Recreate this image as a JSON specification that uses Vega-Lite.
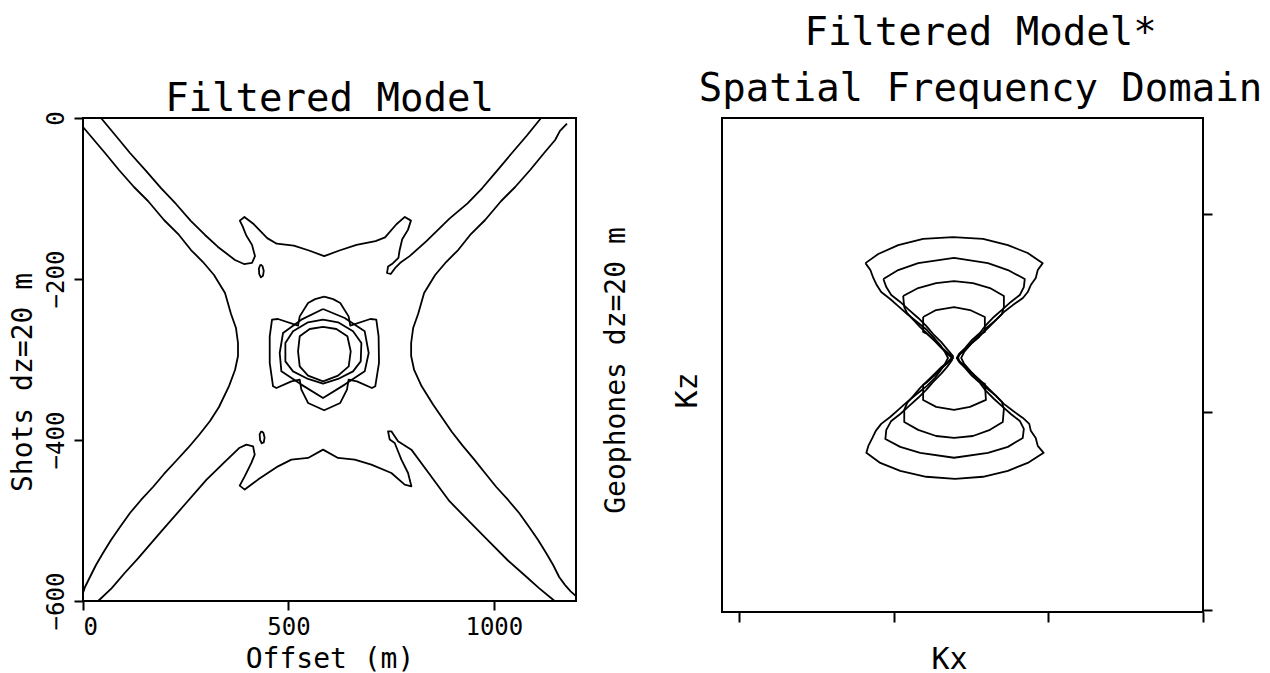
{
  "$schema": "https://vega.github.io/schema/vega-lite/v6.json",
  "background": "white",
  "autosize": {"type": "pad"},
  "padding": {"left": 8, "top": 12, "right": 0, "bottom": 0},
  "bounds": "flush",
  "spacing": 146,
  "config": {
    "font": "DejaVu Sans Mono",
    "view": {"stroke": "black", "strokeWidth": 2},
    "axis": {
      "domain": false, "grid": false,
      "tickColor": "black", "tickWidth": 2, "tickSize": 9,
      "labelFont": "DejaVu Sans Mono", "labelFontSize": 24, "labelColor": "black",
      "titleFont": "DejaVu Sans Mono", "titleFontSize": 28, "titleFontWeight": "normal", "titleColor": "black"
    },
    "title": {"font": "DejaVu Sans Mono", "fontSize": 39, "fontWeight": "normal", "color": "black", "frame": "group", "anchor": "middle"}
  },
  "datasets": {
    "model": [
      {"c":"L1","i":1,"x":0,"y":-11.2},{"c":"L1","i":2,"x":26.8,"y":-27.3},{"c":"L1","i":3,"x":53.6,"y":-43.5},{"c":"L1","i":4,"x":87.6,"y":-64.6},{"c":"L1","i":5,"x":124.1,"y":-85.7},{"c":"L1","i":6,"x":158.2,"y":-103.1},{"c":"L1","i":7,"x":197.2,"y":-126.7},{"c":"L1","i":8,"x":233.7,"y":-145.3},{"c":"L1","i":9,"x":262.9,"y":-164},{"c":"L1","i":10,"x":292.1,"y":-178.9},{"c":"L1","i":11,"x":318.9,"y":-195},{"c":"L1","i":12,"x":345.7,"y":-217.4},{"c":"L1","i":13,"x":360.3,"y":-243.5},{"c":"L1","i":14,"x":372.4,"y":-260.9},{"c":"L1","i":15,"x":377.3,"y":-279.5},{"c":"L1","i":16,"x":377.3,"y":-295.7},{"c":"L1","i":17,"x":370,"y":-313},{"c":"L1","i":18,"x":355.4,"y":-333},{"c":"L1","i":19,"x":331,"y":-359},{"c":"L1","i":20,"x":309.2,"y":-376.4},{"c":"L1","i":21,"x":282.4,"y":-393.8},{"c":"L1","i":22,"x":255.6,"y":-409.9},{"c":"L1","i":23,"x":226.4,"y":-426.1},{"c":"L1","i":24,"x":197.2,"y":-442.2},{"c":"L1","i":25,"x":170.4,"y":-458.4},{"c":"L1","i":26,"x":141.2,"y":-474.5},{"c":"L1","i":27,"x":114.4,"y":-490.7},{"c":"L1","i":28,"x":90.1,"y":-508},{"c":"L1","i":29,"x":68.2,"y":-524.2},{"c":"L1","i":30,"x":48.7,"y":-540.4},{"c":"L1","i":31,"x":31.6,"y":-555.3},{"c":"L1","i":32,"x":17,"y":-570.2},{"c":"L1","i":33,"x":4.9,"y":-582.6},{"c":"L1","i":34,"x":0,"y":-590.1},
      {"c":"L2","i":1,"x":43.8,"y":0},{"c":"L2","i":2,"x":80.3,"y":-22.4},{"c":"L2","i":3,"x":114.4,"y":-43.5},{"c":"L2","i":4,"x":153.4,"y":-65.8},{"c":"L2","i":5,"x":189.9,"y":-87},{"c":"L2","i":6,"x":226.4,"y":-106.8},{"c":"L2","i":7,"x":262.9,"y":-128},{"c":"L2","i":8,"x":297,"y":-145.3},{"c":"L2","i":9,"x":328.6,"y":-160.2},{"c":"L2","i":10,"x":370,"y":-176.4},{"c":"L2","i":11,"x":391.9,"y":-181.4},{"c":"L2","i":12,"x":411.4,"y":-179.9},{"c":"L2","i":13,"x":418.7,"y":-171.6},{"c":"L2","i":14,"x":411.4,"y":-157.6},{"c":"L2","i":15,"x":397.5,"y":-146},{"c":"L2","i":16,"x":388.3,"y":-134.4},{"c":"L2","i":17,"x":381.7,"y":-127.5},{"c":"L2","i":18,"x":392.9,"y":-122.9},{"c":"L2","i":19,"x":416,"y":-132},{"c":"L2","i":20,"x":448.4,"y":-149.2},{"c":"L2","i":21,"x":471.5,"y":-156.1},{"c":"L2","i":22,"x":513.1,"y":-158.5},{"c":"L2","i":23,"x":550.1,"y":-164.6},{"c":"L2","i":24,"x":587.1,"y":-171.6},{"c":"L2","i":25,"x":624.1,"y":-164.6},{"c":"L2","i":26,"x":665.8,"y":-157.6},{"c":"L2","i":27,"x":712,"y":-153},{"c":"L2","i":28,"x":735.2,"y":-148.3},{"c":"L2","i":29,"x":762.9,"y":-132},{"c":"L2","i":30,"x":783.4,"y":-122.9},{"c":"L2","i":31,"x":798.2,"y":-127.5},{"c":"L2","i":32,"x":790.9,"y":-139},{"c":"L2","i":33,"x":777,"y":-150.7},{"c":"L2","i":34,"x":770.5,"y":-164.6},{"c":"L2","i":35,"x":767.8,"y":-173.8},{"c":"L2","i":36,"x":753.9,"y":-180.7},{"c":"L2","i":37,"x":742.6,"y":-184.5},{"c":"L2","i":38,"x":740,"y":-192.4},{"c":"L2","i":39,"x":749,"y":-193.8},{"c":"L2","i":40,"x":761.2,"y":-185.5},{"c":"L2","i":41,"x":772.2,"y":-179.9},{"c":"L2","i":42,"x":795,"y":-171.6},{"c":"L2","i":43,"x":836,"y":-153},{"c":"L2","i":44,"x":892,"y":-125},{"c":"L2","i":45,"x":936,"y":-106},{"c":"L2","i":46,"x":972,"y":-87},{"c":"L2","i":47,"x":1007,"y":-66},{"c":"L2","i":48,"x":1044,"y":-43.5},{"c":"L2","i":49,"x":1080,"y":-22},{"c":"L2","i":50,"x":1115,"y":0},
      {"c":"L3","i":1,"x":1178,"y":-7},{"c":"L3","i":2,"x":1161,"y":-16},{"c":"L3","i":3,"x":1149.2,"y":-27.3},{"c":"L3","i":4,"x":1122.4,"y":-43.5},{"c":"L3","i":5,"x":1088.4,"y":-64.6},{"c":"L3","i":6,"x":1051.9,"y":-85.7},{"c":"L3","i":7,"x":1017.8,"y":-103.1},{"c":"L3","i":8,"x":978.8,"y":-126.7},{"c":"L3","i":9,"x":942.3,"y":-145.3},{"c":"L3","i":10,"x":913.1,"y":-164},{"c":"L3","i":11,"x":883.9,"y":-178.9},{"c":"L3","i":12,"x":857.1,"y":-195},{"c":"L3","i":13,"x":830.3,"y":-217.4},{"c":"L3","i":14,"x":815.7,"y":-243.5},{"c":"L3","i":15,"x":803.6,"y":-260.9},{"c":"L3","i":16,"x":798.7,"y":-279.5},{"c":"L3","i":17,"x":798.7,"y":-295.7},{"c":"L3","i":18,"x":806,"y":-313},{"c":"L3","i":19,"x":824,"y":-333},{"c":"L3","i":20,"x":852,"y":-356},{"c":"L3","i":21,"x":875,"y":-373},{"c":"L3","i":22,"x":898,"y":-390},{"c":"L3","i":23,"x":924,"y":-407},{"c":"L3","i":24,"x":952,"y":-424},{"c":"L3","i":25,"x":980,"y":-442},{"c":"L3","i":26,"x":1006,"y":-458.4},{"c":"L3","i":27,"x":1034.8,"y":-474.5},{"c":"L3","i":28,"x":1061.6,"y":-490.7},{"c":"L3","i":29,"x":1085.9,"y":-508},{"c":"L3","i":30,"x":1107.8,"y":-524.2},{"c":"L3","i":31,"x":1127.3,"y":-540.4},{"c":"L3","i":32,"x":1144.4,"y":-555.3},{"c":"L3","i":33,"x":1159,"y":-570.2},{"c":"L3","i":34,"x":1173,"y":-580},{"c":"L3","i":35,"x":1187,"y":-588},{"c":"L3","i":36,"x":1200,"y":-594},
      {"c":"L4","i":1,"x":37,"y":-600},{"c":"L4","i":2,"x":70,"y":-584},{"c":"L4","i":3,"x":101.5,"y":-565.2},{"c":"L4","i":4,"x":134,"y":-547},{"c":"L4","i":5,"x":189,"y":-514.5},{"c":"L4","i":6,"x":244.6,"y":-482},{"c":"L4","i":7,"x":300.2,"y":-449.6},{"c":"L4","i":8,"x":346.4,"y":-426.5},{"c":"L4","i":9,"x":380,"y":-410},{"c":"L4","i":10,"x":397.7,"y":-405.8},{"c":"L4","i":11,"x":413.9,"y":-407.8},{"c":"L4","i":12,"x":418,"y":-418.2},{"c":"L4","i":13,"x":409.8,"y":-428.5},{"c":"L4","i":14,"x":393.6,"y":-445.1},{"c":"L4","i":15,"x":381.4,"y":-456.7},{"c":"L4","i":16,"x":393.6,"y":-461.6},{"c":"L4","i":17,"x":426,"y":-449.2},{"c":"L4","i":18,"x":474.7,"y":-432.7},{"c":"L4","i":19,"x":507.2,"y":-424.4},{"c":"L4","i":20,"x":547.8,"y":-422.3},{"c":"L4","i":21,"x":584.3,"y":-412},{"c":"L4","i":22,"x":620.8,"y":-422.3},{"c":"L4","i":23,"x":661.4,"y":-424.4},{"c":"L4","i":24,"x":701.9,"y":-430.6},{"c":"L4","i":25,"x":750.6,"y":-441},{"c":"L4","i":26,"x":783,"y":-455.4},{"c":"L4","i":27,"x":799.3,"y":-457.5},{"c":"L4","i":28,"x":791.2,"y":-441},{"c":"L4","i":29,"x":775,"y":-424.4},{"c":"L4","i":30,"x":766.8,"y":-414},{"c":"L4","i":31,"x":758.7,"y":-403.7},{"c":"L4","i":32,"x":746.6,"y":-399.5},{"c":"L4","i":33,"x":742.5,"y":-389.2},{"c":"L4","i":34,"x":750.6,"y":-389.2},{"c":"L4","i":35,"x":766.8,"y":-401.6},{"c":"L4","i":36,"x":799.3,"y":-412},{"c":"L4","i":37,"x":840,"y":-440},{"c":"L4","i":38,"x":892,"y":-476},{"c":"L4","i":39,"x":940,"y":-501},{"c":"L4","i":40,"x":990,"y":-527},{"c":"L4","i":41,"x":1035,"y":-550},{"c":"L4","i":42,"x":1075,"y":-568},{"c":"L4","i":43,"x":1110,"y":-584},{"c":"L4","i":44,"x":1148,"y":-600},
      {"c":"I1","i":1,"x":432,"y":-182},{"c":"I1","i":2,"x":437,"y":-184},{"c":"I1","i":3,"x":440,"y":-190},{"c":"I1","i":4,"x":438,"y":-196},{"c":"I1","i":5,"x":433,"y":-198},{"c":"I1","i":6,"x":429,"y":-194},{"c":"I1","i":7,"x":428,"y":-187},{"c":"I1","i":8,"x":432,"y":-182},
      {"c":"I2","i":1,"x":434,"y":-389},{"c":"I2","i":2,"x":439,"y":-391},{"c":"I2","i":3,"x":442,"y":-397},{"c":"I2","i":4,"x":440,"y":-403},{"c":"I2","i":5,"x":435,"y":-404},{"c":"I2","i":6,"x":431,"y":-400},{"c":"I2","i":7,"x":430,"y":-393},{"c":"I2","i":8,"x":434,"y":-389},
      {"c":"R1","i":1,"x":587,"y":-222},{"c":"R1","i":2,"x":609,"y":-225},{"c":"R1","i":3,"x":626.2,"y":-229.8},{"c":"R1","i":4,"x":646.5,"y":-246.4},{"c":"R1","i":5,"x":650.6,"y":-258},{"c":"R1","i":6,"x":699.3,"y":-249.7},{"c":"R1","i":7,"x":713.9,"y":-250.5},{"c":"R1","i":8,"x":719.5,"y":-271.2},{"c":"R1","i":9,"x":720.5,"y":-304.3},{"c":"R1","i":10,"x":711.4,"y":-333.3},{"c":"R1","i":11,"x":703.3,"y":-335.4},{"c":"R1","i":12,"x":666.8,"y":-327.1},{"c":"R1","i":13,"x":646.5,"y":-325},{"c":"R1","i":14,"x":642.5,"y":-337.4},{"c":"R1","i":15,"x":626.2,"y":-354},{"c":"R1","i":16,"x":587,"y":-363.1},{"c":"R1","i":17,"x":547.8,"y":-354},{"c":"R1","i":18,"x":531.5,"y":-337.4},{"c":"R1","i":19,"x":527.5,"y":-325},{"c":"R1","i":20,"x":507.2,"y":-327.1},{"c":"R1","i":21,"x":470.7,"y":-335.4},{"c":"R1","i":22,"x":462.6,"y":-333.3},{"c":"R1","i":23,"x":454.5,"y":-304.3},{"c":"R1","i":24,"x":454.5,"y":-271.2},{"c":"R1","i":25,"x":460.1,"y":-250.5},{"c":"R1","i":26,"x":474.7,"y":-249.7},{"c":"R1","i":27,"x":523.4,"y":-258},{"c":"R1","i":28,"x":527.5,"y":-246.4},{"c":"R1","i":29,"x":547.8,"y":-229.8},{"c":"R1","i":30,"x":565,"y":-225},{"c":"R1","i":31,"x":587,"y":-222},
      {"c":"R2","i":1,"x":584.3,"y":-237.3},{"c":"R2","i":2,"x":637,"y":-248.4},{"c":"R2","i":3,"x":685.7,"y":-265},{"c":"R2","i":4,"x":695.4,"y":-291.9},{"c":"R2","i":5,"x":685.7,"y":-314.7},{"c":"R2","i":6,"x":637,"y":-331.2},{"c":"R2","i":7,"x":584.3,"y":-347.8},{"c":"R2","i":8,"x":531.5,"y":-331.2},{"c":"R2","i":9,"x":482.9,"y":-314.7},{"c":"R2","i":10,"x":478.8,"y":-291.9},{"c":"R2","i":11,"x":486.9,"y":-267.1},{"c":"R2","i":12,"x":531.5,"y":-250.5},{"c":"R2","i":13,"x":584.3,"y":-237.3},
      {"c":"R3","i":1,"x":584.3,"y":-250.5},{"c":"R3","i":2,"x":620.8,"y":-253.8},{"c":"R3","i":3,"x":657.3,"y":-265},{"c":"R3","i":4,"x":677.6,"y":-279.5},{"c":"R3","i":5,"x":676,"y":-302.3},{"c":"R3","i":6,"x":657.3,"y":-314.7},{"c":"R3","i":7,"x":620.8,"y":-324.2},{"c":"R3","i":8,"x":584.3,"y":-330},{"c":"R3","i":9,"x":547.8,"y":-324.2},{"c":"R3","i":10,"x":511.2,"y":-314.7},{"c":"R3","i":11,"x":492.6,"y":-302.3},{"c":"R3","i":12,"x":492.6,"y":-279.5},{"c":"R3","i":13,"x":511.2,"y":-265},{"c":"R3","i":14,"x":547.8,"y":-253.8},{"c":"R3","i":15,"x":584.3,"y":-250.5},
      {"c":"R4","i":1,"x":584.3,"y":-259.6},{"c":"R4","i":2,"x":616.7,"y":-262.1},{"c":"R4","i":3,"x":643.5,"y":-271.2},{"c":"R4","i":4,"x":651.6,"y":-289.8},{"c":"R4","i":5,"x":646.8,"y":-308.5},{"c":"R4","i":6,"x":620.8,"y":-320.1},{"c":"R4","i":7,"x":584.3,"y":-327.1},{"c":"R4","i":8,"x":547.8,"y":-320.1},{"c":"R4","i":9,"x":527.5,"y":-308.5},{"c":"R4","i":10,"x":523.4,"y":-289.8},{"c":"R4","i":11,"x":527.5,"y":-271.2},{"c":"R4","i":12,"x":551.8,"y":-262.1},{"c":"R4","i":13,"x":584.3,"y":-259.6}
    ],
    "spectrum": [
      {"c":"H1","i":1,"kx":0.818,"kz":1.752},{"c":"H1","i":2,"kx":0.901,"kz":1.798},{"c":"H1","i":3,"kx":1.030,"kz":1.843},{"c":"H1","i":4,"kx":1.191,"kz":1.875},{"c":"H1","i":5,"kx":1.384,"kz":1.883},{"c":"H1","i":6,"kx":1.578,"kz":1.875},{"c":"H1","i":7,"kx":1.739,"kz":1.843},{"c":"H1","i":8,"kx":1.867,"kz":1.803},{"c":"H1","i":9,"kx":1.964,"kz":1.752},{"c":"H1","i":10,"kx":1.932,"kz":1.717},{"c":"H1","i":11,"kx":1.919,"kz":1.677},{"c":"H1","i":12,"kx":1.887,"kz":1.641},{"c":"H1","i":13,"kx":1.867,"kz":1.606},{"c":"H1","i":14,"kx":1.836,"kz":1.576},{"c":"H1","i":15,"kx":1.771,"kz":1.540},{"c":"H1","i":16,"kx":1.713,"kz":1.505},{"c":"H1","i":17,"kx":1.662,"kz":1.465},{"c":"H1","i":18,"kx":1.598,"kz":1.424},{"c":"H1","i":19,"kx":1.553,"kz":1.379},{"c":"H1","i":20,"kx":1.501,"kz":1.344},{"c":"H1","i":21,"kx":1.456,"kz":1.303},{"c":"H1","i":22,"kx":1.437,"kz":1.273},{"c":"H1","i":23,"kx":1.456,"kz":1.243},{"c":"H1","i":24,"kx":1.501,"kz":1.203},{"c":"H1","i":25,"kx":1.553,"kz":1.163},{"c":"H1","i":26,"kx":1.598,"kz":1.122},{"c":"H1","i":27,"kx":1.662,"kz":1.082},{"c":"H1","i":28,"kx":1.713,"kz":1.041},{"c":"H1","i":29,"kx":1.771,"kz":1.006},{"c":"H1","i":30,"kx":1.836,"kz":0.970},{"c":"H1","i":31,"kx":1.877,"kz":0.940},{"c":"H1","i":32,"kx":1.887,"kz":0.905},{"c":"H1","i":33,"kx":1.919,"kz":0.869},{"c":"H1","i":34,"kx":1.932,"kz":0.829},{"c":"H1","i":35,"kx":1.970,"kz":0.794},{"c":"H1","i":36,"kx":1.867,"kz":0.743},{"c":"H1","i":37,"kx":1.739,"kz":0.703},{"c":"H1","i":38,"kx":1.578,"kz":0.673},{"c":"H1","i":39,"kx":1.397,"kz":0.662},{"c":"H1","i":40,"kx":1.211,"kz":0.673},{"c":"H1","i":41,"kx":1.043,"kz":0.703},{"c":"H1","i":42,"kx":0.914,"kz":0.743},{"c":"H1","i":43,"kx":0.824,"kz":0.794},{"c":"H1","i":44,"kx":0.837,"kz":0.829},{"c":"H1","i":45,"kx":0.863,"kz":0.869},{"c":"H1","i":46,"kx":0.885,"kz":0.905},{"c":"H1","i":47,"kx":0.920,"kz":0.940},{"c":"H1","i":48,"kx":0.978,"kz":0.975},{"c":"H1","i":49,"kx":1.030,"kz":1.011},{"c":"H1","i":50,"kx":1.088,"kz":1.051},{"c":"H1","i":51,"kx":1.152,"kz":1.092},{"c":"H1","i":52,"kx":1.216,"kz":1.132},{"c":"H1","i":53,"kx":1.268,"kz":1.173},{"c":"H1","i":54,"kx":1.306,"kz":1.213},{"c":"H1","i":55,"kx":1.332,"kz":1.243},{"c":"H1","i":56,"kx":1.352,"kz":1.273},{"c":"H1","i":57,"kx":1.332,"kz":1.303},{"c":"H1","i":58,"kx":1.306,"kz":1.334},{"c":"H1","i":59,"kx":1.268,"kz":1.369},{"c":"H1","i":60,"kx":1.216,"kz":1.414},{"c":"H1","i":61,"kx":1.152,"kz":1.455},{"c":"H1","i":62,"kx":1.088,"kz":1.495},{"c":"H1","i":63,"kx":1.030,"kz":1.535},{"c":"H1","i":64,"kx":0.978,"kz":1.571},{"c":"H1","i":65,"kx":0.920,"kz":1.606},{"c":"H1","i":66,"kx":0.891,"kz":1.641},{"c":"H1","i":67,"kx":0.869,"kz":1.677},{"c":"H1","i":68,"kx":0.850,"kz":1.717},{"c":"H1","i":69,"kx":0.818,"kz":1.752},
      {"c":"H2","i":1,"kx":0.934,"kz":1.672},{"c":"H2","i":2,"kx":1.030,"kz":1.717},{"c":"H2","i":3,"kx":1.159,"kz":1.752},{"c":"H2","i":4,"kx":1.391,"kz":1.778},{"c":"H2","i":5,"kx":1.610,"kz":1.752},{"c":"H2","i":6,"kx":1.739,"kz":1.717},{"c":"H2","i":7,"kx":1.848,"kz":1.672},{"c":"H2","i":8,"kx":1.842,"kz":1.631},{"c":"H2","i":9,"kx":1.816,"kz":1.591},{"c":"H2","i":10,"kx":1.758,"kz":1.556},{"c":"H2","i":11,"kx":1.706,"kz":1.520},{"c":"H2","i":12,"kx":1.648,"kz":1.480},{"c":"H2","i":13,"kx":1.597,"kz":1.439},{"c":"H2","i":14,"kx":1.558,"kz":1.399},{"c":"H2","i":15,"kx":1.507,"kz":1.364},{"c":"H2","i":16,"kx":1.462,"kz":1.323},{"c":"H2","i":17,"kx":1.423,"kz":1.293},{"c":"H2","i":18,"kx":1.410,"kz":1.273},{"c":"H2","i":19,"kx":1.423,"kz":1.253},{"c":"H2","i":20,"kx":1.462,"kz":1.223},{"c":"H2","i":21,"kx":1.507,"kz":1.183},{"c":"H2","i":22,"kx":1.558,"kz":1.147},{"c":"H2","i":23,"kx":1.597,"kz":1.107},{"c":"H2","i":24,"kx":1.648,"kz":1.067},{"c":"H2","i":25,"kx":1.706,"kz":1.026},{"c":"H2","i":26,"kx":1.758,"kz":0.990},{"c":"H2","i":27,"kx":1.816,"kz":0.955},{"c":"H2","i":28,"kx":1.842,"kz":0.915},{"c":"H2","i":29,"kx":1.835,"kz":0.869},{"c":"H2","i":30,"kx":1.739,"kz":0.824},{"c":"H2","i":31,"kx":1.610,"kz":0.794},{"c":"H2","i":32,"kx":1.391,"kz":0.769},{"c":"H2","i":33,"kx":1.172,"kz":0.794},{"c":"H2","i":34,"kx":1.043,"kz":0.824},{"c":"H2","i":35,"kx":0.947,"kz":0.864},{"c":"H2","i":36,"kx":0.953,"kz":0.910},{"c":"H2","i":37,"kx":0.985,"kz":0.955},{"c":"H2","i":38,"kx":1.043,"kz":0.990},{"c":"H2","i":39,"kx":1.101,"kz":1.031},{"c":"H2","i":40,"kx":1.159,"kz":1.072},{"c":"H2","i":41,"kx":1.211,"kz":1.112},{"c":"H2","i":42,"kx":1.256,"kz":1.152},{"c":"H2","i":43,"kx":1.307,"kz":1.193},{"c":"H2","i":44,"kx":1.346,"kz":1.228},{"c":"H2","i":45,"kx":1.378,"kz":1.263},{"c":"H2","i":46,"kx":1.384,"kz":1.283},{"c":"H2","i":47,"kx":1.346,"kz":1.318},{"c":"H2","i":48,"kx":1.307,"kz":1.354},{"c":"H2","i":49,"kx":1.256,"kz":1.394},{"c":"H2","i":50,"kx":1.211,"kz":1.435},{"c":"H2","i":51,"kx":1.159,"kz":1.475},{"c":"H2","i":52,"kx":1.101,"kz":1.515},{"c":"H2","i":53,"kx":1.043,"kz":1.556},{"c":"H2","i":54,"kx":0.985,"kz":1.591},{"c":"H2","i":55,"kx":0.953,"kz":1.631},{"c":"H2","i":56,"kx":0.934,"kz":1.672},
      {"c":"H3","i":1,"kx":1.062,"kz":1.586},{"c":"H3","i":2,"kx":1.159,"kz":1.626},{"c":"H3","i":3,"kx":1.275,"kz":1.651},{"c":"H3","i":4,"kx":1.391,"kz":1.661},{"c":"H3","i":5,"kx":1.513,"kz":1.651},{"c":"H3","i":6,"kx":1.623,"kz":1.626},{"c":"H3","i":7,"kx":1.713,"kz":1.586},{"c":"H3","i":8,"kx":1.713,"kz":1.530},{"c":"H3","i":9,"kx":1.700,"kz":1.495},{"c":"H3","i":10,"kx":1.662,"kz":1.465},{"c":"H3","i":11,"kx":1.610,"kz":1.424},{"c":"H3","i":12,"kx":1.562,"kz":1.389},{"c":"H3","i":13,"kx":1.510,"kz":1.354},{"c":"H3","i":14,"kx":1.465,"kz":1.318},{"c":"H3","i":15,"kx":1.428,"kz":1.293},{"c":"H3","i":16,"kx":1.417,"kz":1.273},{"c":"H3","i":17,"kx":1.428,"kz":1.253},{"c":"H3","i":18,"kx":1.465,"kz":1.228},{"c":"H3","i":19,"kx":1.510,"kz":1.193},{"c":"H3","i":20,"kx":1.562,"kz":1.158},{"c":"H3","i":21,"kx":1.610,"kz":1.122},{"c":"H3","i":22,"kx":1.662,"kz":1.082},{"c":"H3","i":23,"kx":1.700,"kz":1.051},{"c":"H3","i":24,"kx":1.713,"kz":1.016},{"c":"H3","i":25,"kx":1.706,"kz":0.950},{"c":"H3","i":26,"kx":1.623,"kz":0.910},{"c":"H3","i":27,"kx":1.513,"kz":0.879},{"c":"H3","i":28,"kx":1.391,"kz":0.869},{"c":"H3","i":29,"kx":1.275,"kz":0.879},{"c":"H3","i":30,"kx":1.159,"kz":0.910},{"c":"H3","i":31,"kx":1.069,"kz":0.950},{"c":"H3","i":32,"kx":1.069,"kz":1.011},{"c":"H3","i":33,"kx":1.088,"kz":1.046},{"c":"H3","i":34,"kx":1.128,"kz":1.082},{"c":"H3","i":35,"kx":1.172,"kz":1.122},{"c":"H3","i":36,"kx":1.220,"kz":1.158},{"c":"H3","i":37,"kx":1.265,"kz":1.193},{"c":"H3","i":38,"kx":1.310,"kz":1.228},{"c":"H3","i":39,"kx":1.350,"kz":1.253},{"c":"H3","i":40,"kx":1.376,"kz":1.273},{"c":"H3","i":41,"kx":1.350,"kz":1.293},{"c":"H3","i":42,"kx":1.310,"kz":1.323},{"c":"H3","i":43,"kx":1.265,"kz":1.359},{"c":"H3","i":44,"kx":1.220,"kz":1.394},{"c":"H3","i":45,"kx":1.172,"kz":1.429},{"c":"H3","i":46,"kx":1.128,"kz":1.465},{"c":"H3","i":47,"kx":1.088,"kz":1.500},{"c":"H3","i":48,"kx":1.069,"kz":1.530},{"c":"H3","i":49,"kx":1.062,"kz":1.586},
      {"c":"H4","i":1,"kx":1.191,"kz":1.480},{"c":"H4","i":2,"kx":1.275,"kz":1.515},{"c":"H4","i":3,"kx":1.391,"kz":1.530},{"c":"H4","i":4,"kx":1.494,"kz":1.515},{"c":"H4","i":5,"kx":1.590,"kz":1.480},{"c":"H4","i":6,"kx":1.590,"kz":1.404},{"c":"H4","i":7,"kx":1.565,"kz":1.394},{"c":"H4","i":8,"kx":1.506,"kz":1.349},{"c":"H4","i":9,"kx":1.461,"kz":1.313},{"c":"H4","i":10,"kx":1.423,"kz":1.288},{"c":"H4","i":11,"kx":1.409,"kz":1.273},{"c":"H4","i":12,"kx":1.423,"kz":1.258},{"c":"H4","i":13,"kx":1.461,"kz":1.233},{"c":"H4","i":14,"kx":1.506,"kz":1.198},{"c":"H4","i":15,"kx":1.565,"kz":1.152},{"c":"H4","i":16,"kx":1.590,"kz":1.142},{"c":"H4","i":17,"kx":1.597,"kz":1.061},{"c":"H4","i":18,"kx":1.494,"kz":1.026},{"c":"H4","i":19,"kx":1.391,"kz":1.011},{"c":"H4","i":20,"kx":1.275,"kz":1.026},{"c":"H4","i":21,"kx":1.191,"kz":1.061},{"c":"H4","i":22,"kx":1.191,"kz":1.137},{"c":"H4","i":23,"kx":1.218,"kz":1.152},{"c":"H4","i":24,"kx":1.276,"kz":1.193},{"c":"H4","i":25,"kx":1.321,"kz":1.228},{"c":"H4","i":26,"kx":1.359,"kz":1.253},{"c":"H4","i":27,"kx":1.385,"kz":1.273},{"c":"H4","i":28,"kx":1.359,"kz":1.293},{"c":"H4","i":29,"kx":1.321,"kz":1.318},{"c":"H4","i":30,"kx":1.276,"kz":1.354},{"c":"H4","i":31,"kx":1.218,"kz":1.394},{"c":"H4","i":32,"kx":1.191,"kz":1.404},{"c":"H4","i":33,"kx":1.191,"kz":1.480}
    ]
  },
  "hconcat": [
    {
      "width": 493,
      "height": 483,
      "title": {"text": "Filtered Model", "offset": -39, "baseline": "alphabetic"},
      "data": {"name": "model"},
      "layer": [
        {
          "mark": {"type": "line", "stroke": "black", "strokeWidth": 1.8, "strokeJoin": "round"},
          "encoding": {
            "x": {
              "field": "x", "type": "quantitative",
              "scale": {"domain": [0, 1200], "nice": false, "zero": false},
              "axis": {"values": [0, 500, 1000], "format": "d", "title": "Offset (m)", "labelPadding": 5, "titleY": 66, "titleBaseline": "alphabetic"}
            },
            "y": {
              "field": "y", "type": "quantitative",
              "scale": {"domain": [-600, 0], "nice": false, "zero": false},
              "axis": {"values": [0, -200, -400, -600], "title": "Shots dz=20 m", "labelAngle": 270, "labelAlign": "center", "labelBaseline": "bottom", "labelPadding": 6, "titleAngle": 270, "titleX": -60, "titleY": 264, "titleBaseline": "middle", "titleAlign": "center"}
            },
            "detail": {"field": "c"},
            "order": {"field": "i"}
          }
        },
        {
          "mark": {"type": "point", "opacity": 0, "size": 1},
          "encoding": {
            "y": {
              "field": "y", "type": "quantitative",
              "scale": {"domain": [-600, 0], "nice": false, "zero": false},
              "axis": {"orient": "right", "title": "Geophones dz=20 m", "labels": false, "ticks": false, "titleAngle": 270, "titleX": 40, "titleY": 252, "titleBaseline": "middle", "titleAlign": "center"}
            }
          }
        }
      ],
      "resolve": {"scale": {"y": "independent"}, "axis": {"y": "independent"}}
    },
    {
      "width": 481,
      "height": 494,
      "title": {"text": ["Filtered Model*", "Spatial Frequency Domain"], "lineHeight": 56, "offset": -21.5, "dx": 18, "baseline": "alphabetic"},
      "data": {"name": "spectrum"},
      "layer": [
        {
          "mark": {"type": "line", "stroke": "black", "strokeWidth": 1.8, "strokeJoin": "round"},
          "encoding": {
            "x": {
              "field": "kx", "type": "quantitative",
              "scale": {"domain": [-0.109, 3.0], "nice": false, "zero": false},
              "axis": {"values": [0, 1, 2, 3], "labels": false, "tickSize": 10, "title": "Kx", "titleFontSize": 30, "titleX": 227, "titleY": 56, "titleBaseline": "alphabetic"}
            },
            "y": {
              "field": "kz", "type": "quantitative",
              "scale": {"domain": [-0.01, 2.485], "nice": false, "zero": false},
              "axis": {"orient": "right", "values": [0, 1, 2], "labels": false, "title": null, "tickSize": 9}
            },
            "detail": {"field": "c"},
            "order": {"field": "i"}
          }
        },
        {
          "mark": {"type": "point", "opacity": 0, "size": 1},
          "encoding": {
            "y": {
              "field": "kz", "type": "quantitative",
              "scale": {"domain": [-0.01, 2.485], "nice": false, "zero": false},
              "axis": {"orient": "left", "title": "Kz", "labels": false, "ticks": false, "titleFontSize": 30, "titleAngle": 270, "titleX": -35, "titleY": 272, "titleBaseline": "middle", "titleAlign": "center"}
            }
          }
        }
      ],
      "resolve": {"scale": {"y": "independent"}, "axis": {"y": "independent"}}
    }
  ]
}
